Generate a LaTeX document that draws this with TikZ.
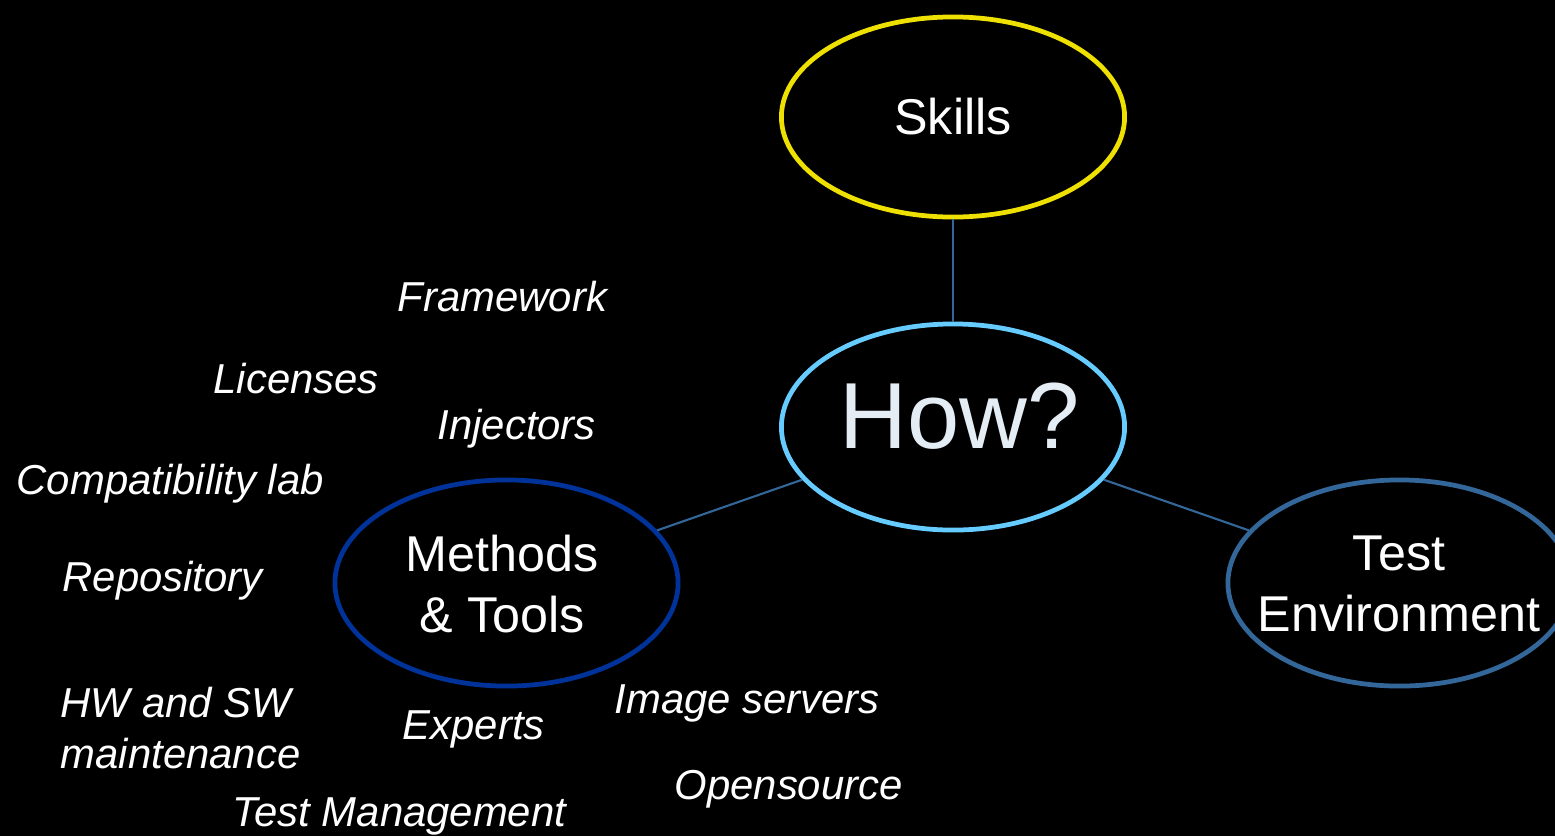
\documentclass[tikz,border=0pt]{standalone}
\usepackage{fontspec}
\setmainfont{Liberation Sans}
\usetikzlibrary{shapes.geometric}
\definecolor{skillyellow}{HTML}{EEE000}
\definecolor{howblue}{HTML}{66CCFF}
\definecolor{methblue}{HTML}{003399}
\definecolor{envblue}{HTML}{336699}
\definecolor{howtext}{HTML}{E4ECF4}

\begin{document}
\begin{tikzpicture}[x=0.01cm,y=-0.01cm,
    bubble/.style={ellipse,draw,line width=1.35pt,minimum width=3.43cm,minimum height=2.06cm,inner sep=0pt},
    bubbletext/.style={text=white,align=center,inner sep=0pt,font=\fontsize{14.3}{17.4}\selectfont},
    idea/.style={text=white,anchor=base west,inner sep=0pt,font=\fontsize{11.9}{14.5}\selectfont\itshape},
    link/.style={draw=envblue,line width=0.6pt}]
            \useasboundingbox (0,0) rectangle (1555,836);
            \clip (0,0) rectangle (1555,836);
            \fill[black] (0,0) rectangle (1555,836);
            % the four bubbles
            \node[bubble,draw=skillyellow,minimum height=2cm] (skills) at (953,117) {};
            \node[bubble,draw=howblue] (how) at (953,427) {};
            \node[bubble,draw=methblue] (methods) at (506.5,583) {};
            \node[bubble,draw=envblue] (env) at (1399.5,583) {};
            \node[bubbletext] (skillstxt) at (skills) {Skills};
            \node[bubbletext,text=howtext,font=\fontsize{26.7}{32}\selectfont] (howtxt) at (960,416) {How?};
            \node[bubbletext] (methodstxt) at (502,584) {Methods\\\& Tools};
            \node[bubbletext] (envtxt) at (1399,584) {Test\\Environment};
            \draw[link] (skills) -- (how);
            \draw[link] (how) -- (methods);
            \draw[link] (how) -- (env);
            % loose ideas
            \node[idea] (framework) at (397,311) {Framework};
            \node[idea] (licenses) at (213,393) {Licenses};
            \node[idea] (injectors) at (437,439) {Injectors};
            \node[idea] (complab) at (16,494) {Compatibility lab};
            \node[idea] (repository) at (62,591) {Repository};
            \node[idea,anchor=north west,align=left] (maint) at (60,686) {HW and SW\\maintenance};
            \node[idea] (experts) at (402,739) {Experts};
            \node[idea] (imageservers) at (614,713) {Image servers};
            \node[idea] (opensource) at (674,799) {Opensource};
            \node[idea] (testmgmt) at (232,826) {Test Management};
        \end{tikzpicture}
\end{document}
